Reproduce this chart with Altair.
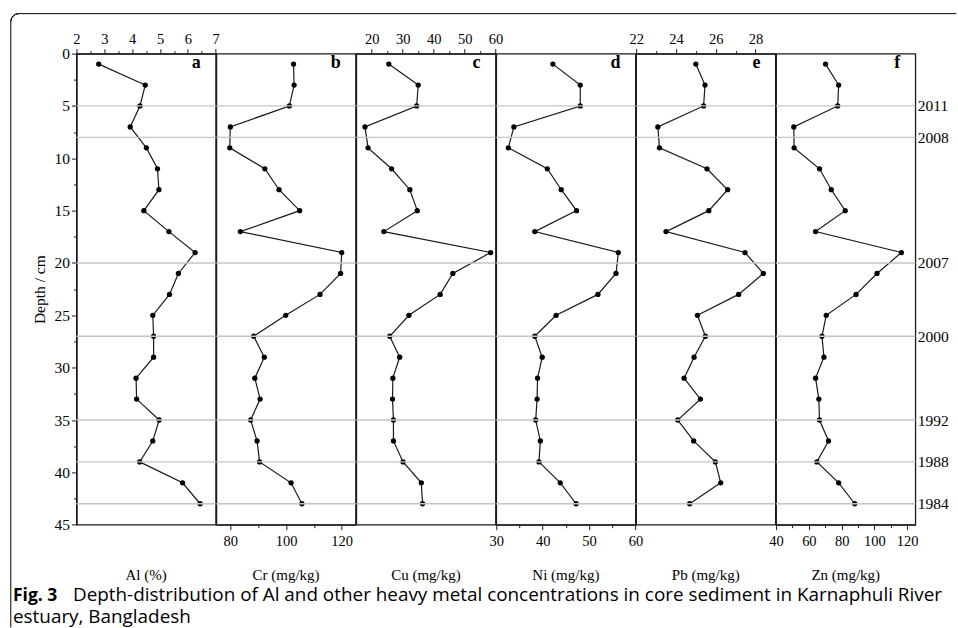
import altair as alt
import pandas as pd

# ---------------- data ----------------
depth = [1, 3, 5, 7, 9, 11, 13, 15, 17, 19, 21, 23, 25, 27, 29, 31, 33, 35, 37, 39, 41, 43]
al = [2.80, 4.47, 4.28, 3.93, 4.51, 4.91, 4.96, 4.42, 5.32, 6.26, 5.66, 5.34,
      4.74, 4.77, 4.77, 4.14, 4.16, 4.97, 4.74, 4.27, 5.81, 6.44]
cr = [102.7, 102.9, 101.2, 80.0, 79.8, 92.4, 97.5, 104.9, 83.6, 120.0, 119.6, 112.2,
      99.9, 88.4, 92.2, 88.8, 90.7, 87.3, 89.6, 90.5, 101.8, 105.7]
cu = [25.5, 35.0, 34.5, 17.8, 18.8, 26.4, 32.3, 34.7, 23.9, 58.4, 46.2, 42.1,
      32.0, 25.8, 29.0, 26.8, 26.7, 27.0, 27.0, 30.1, 36.0, 36.4]
ni = [42.2, 48.1, 48.1, 33.8, 32.6, 41.0, 44.0, 47.3, 38.3, 56.3, 55.8, 51.9,
      42.9, 38.3, 39.9, 38.9, 38.8, 38.5, 39.5, 39.2, 43.8, 47.2]
pb = [25.00, 25.46, 25.39, 23.09, 23.17, 25.56, 26.60, 25.65, 23.50, 27.47, 28.39, 27.15,
      25.08, 25.48, 24.91, 24.41, 25.23, 24.09, 24.89, 25.98, 26.25, 24.69]
zn = [70.2, 78.2, 77.6, 50.8, 51.0, 66.5, 73.7, 82.2, 64.1, 116.5, 101.6, 88.8,
      70.6, 68.0, 69.2, 64.1, 66.1, 66.5, 72.0, 64.9, 78.2, 88.0]

year_depth = [5, 8, 20, 27, 35, 39, 43]
year_label = ["2011", "2008", "2007", "2000", "1992", "1988", "1984"]

panel_letter = ["a", "b", "c", "d", "e", "f"]
panel_title = ["Al (%)", "Cr (mg/kg)", "Cu (mg/kg)", "Ni (mg/kg)", "Pb (mg/kg)", "Zn (mg/kg)"]
series = [al, cr, cu, ni, pb, zn]
x_domain = [[2, 7], [75, 125], [15, 60], [30, 60], [22, 29], [40, 125]]
x_major = [[2, 3, 4, 5, 6, 7], [80, 100, 120], [20, 30, 40, 50, 60],
           [30, 40, 50, 60], [22, 24, 26, 28], [40, 60, 80, 100, 120]]
x_minor = [[2.5, 3.5, 4.5, 5.5, 6.5], [90, 110], [25, 35, 45, 55],
           [35, 45, 55], [23, 25, 27], [50, 70, 90, 110]]
x_orient = ["top", "bottom", "top", "bottom", "top", "bottom"]

depth_major = [0, 5, 10, 15, 20, 25, 30, 35, 40, 45]
depth_minor = [2.5, 7.5, 12.5, 17.5, 22.5, 27.5, 32.5, 37.5, 42.5]

caption_bold = "Fig. 3"
caption_1 = "Depth-distribution of Al and other heavy metal concentrations in core sediment in Karnaphuli River"
caption_2 = "estuary, Bangladesh"

# ---------------- layout ----------------
W = 139.33
H = 471.3
SERIF = "Liberation Serif"
SANS = "Open Sans"
INK = "#1a1a1a"


def js_list(v):
    return "[" + ",".join(str(x) for x in v) + "]"


def major_test(v):
    return f"indexof({js_list(v)}, datum.value) >= 0"


yscale = alt.Scale(domain=[0, 45], reverse=True, nice=False, zero=False)
year_df = pd.DataFrame({"yd": year_depth, "yl": year_label})

year_expr = " : ".join(f"datum.value == {d} ? '{l}'" for d, l in zip(year_depth, year_label)) + " : ''"


def panel(i):
    df = pd.DataFrame({"depth": depth, "v": series[i]})
    xaxis = alt.Axis(
        orient=x_orient[i], values=sorted(x_major[i] + x_minor[i]),
        labelExpr=f"{major_test(x_major[i])} ? '' + datum.value : ''",
        title=None, labelFlush=False, labelOverlap=False, grid=False,
        tickSize={"condition": {"test": major_test(x_major[i]), "value": 5}, "value": 3},
        labelPadding=2 if x_orient[i] == "top" else 5, labelFontSize=14.5,
    )
    x = alt.X("v:Q", scale=alt.Scale(domain=x_domain[i], nice=False, zero=False), axis=xaxis)
    if i == 0:
        yaxis = alt.Axis(
            orient="left", values=sorted(depth_major + depth_minor),
            labelExpr=f"{major_test(depth_major)} ? '' + datum.value : ''",
            title="Depth / cm", labelFlush=False, labelOverlap=False, grid=False,
            tickSize={"condition": {"test": major_test(depth_major), "value": 5}, "value": 3},
            labelPadding=2, labelFontSize=15.5, titleFontSize=15.5, titlePadding=6,
        )
    elif i == 5:
        yaxis = alt.Axis(orient="right", values=year_depth, labelExpr=year_expr,
                         ticks=False, domain=False, grid=False, title=None,
                         labelPadding=2, labelFontSize=15.5, labelFlush=False, labelOverlap=False)
    else:
        yaxis = None
    y = alt.Y("depth:Q", scale=yscale, axis=yaxis)

    line = alt.Chart(df).mark_line(color=INK, strokeWidth=1.2).encode(x=x, y=y, order="depth:Q")
    pts = alt.Chart(df).mark_circle(color="black", size=28, opacity=1).encode(x=x, y=y)
    grid = alt.Chart(year_df).mark_rule(color="#c4c4c4", strokeWidth=1.3).encode(
        y=alt.Y("yd:Q", scale=yscale, axis=yaxis))

    letter = alt.Chart(pd.DataFrame({"t": [panel_letter[i]]})).mark_text(
        font=SERIF, fontSize=18, fontWeight="bold", align="right", baseline="middle", color="black"
    ).encode(text="t:N", x=alt.value(W - 15), y=alt.value(9))

    ttl = alt.Chart(pd.DataFrame({"t": [panel_title[i]]})).mark_text(
        font=SERIF, fontSize=15, align="center", baseline="middle", color="black"
    ).encode(text="t:N", x=alt.value(W / 2), y=alt.value(H + 50))

    layers = [line, pts, grid, letter, ttl]

    if i == 0:
        r = 8
        bx, by = -65.7, -40.0
        vrule = alt.Chart(pd.DataFrame({"k": [0]})).mark_rule(color="black", strokeWidth=1).encode(
            x=alt.value(bx), y=alt.value(by + r), y2=alt.value(574.2))
        hrule = alt.Chart(pd.DataFrame({"k": [0]})).mark_rule(color="black", strokeWidth=1).encode(
            x=alt.value(bx + r), x2=alt.value(880.3), y=alt.value(by))
        corner = alt.Chart(pd.DataFrame({"k": [0]})).mark_arc(
            radius=r, radius2=r, theta=4.7124, theta2=6.2832, stroke="black", strokeWidth=1,
            fill="white", fillOpacity=0
        ).encode(x=alt.value(bx + r), y=alt.value(by + r))
        cap_b = alt.Chart(pd.DataFrame({"t": [caption_bold]})).mark_text(
            font=SANS, fontSize=17.5, fontWeight="bold", align="left", baseline="alphabetic", color="black"
        ).encode(text="t:N", x=alt.value(-63.5), y=alt.value(547.5))
        cap_1 = alt.Chart(pd.DataFrame({"t": [caption_1]})).mark_text(
            font=SANS, fontSize=18.9, align="left", baseline="alphabetic", color="black"
        ).encode(text="t:N", x=alt.value(-3.5), y=alt.value(547.5))
        cap_2 = alt.Chart(pd.DataFrame({"t": [caption_2]})).mark_text(
            font=SANS, fontSize=18.9, align="left", baseline="alphabetic", color="black"
        ).encode(text="t:N", x=alt.value(-63.5), y=alt.value(569.5))
        layers += [vrule, hrule, corner, cap_b, cap_1, cap_2]

    return alt.layer(*layers).properties(width=W, height=H)


chart = alt.hconcat(*[panel(i) for i in range(6)], spacing=0, bounds="flush").properties(
    padding={"left": 7.5, "top": 10.5, "right": 0, "bottom": 0}
).configure_view(
    stroke=INK, strokeWidth=1.3
).configure_axis(
    labelFont=SERIF, titleFont=SERIF, labelColor="black", titleColor="black",
    domainColor=INK, tickColor=INK, domainWidth=1.3, tickWidth=1, titleFontWeight="normal"
)

chart.save("out.html", embed_options={"renderer": "svg", "actions": False})
